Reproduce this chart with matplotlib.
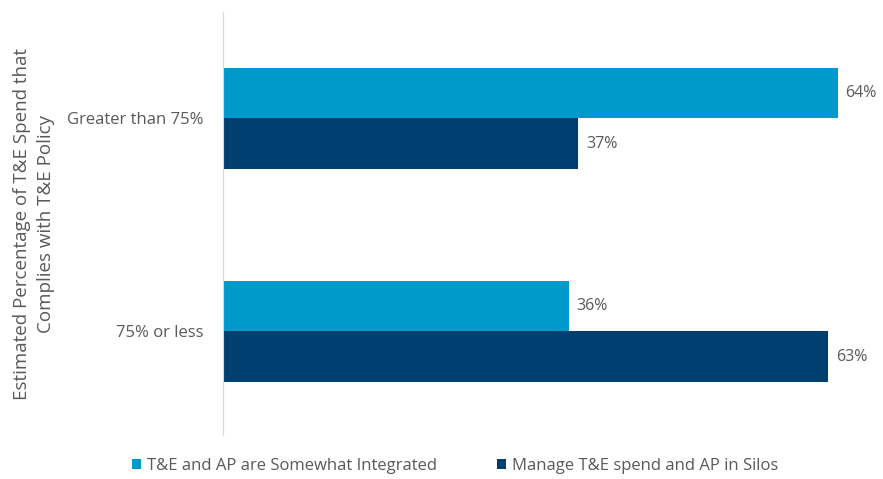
import numpy as np
import matplotlib.pyplot as plt

plt.rcParams["font.family"] = ["Open Sans", "DejaVu Sans"]

categories = ["Greater than 75%", "75% or less"]
integrated = [64, 36]
silos = [37, 63]
series_names = ["T&E and AP are Somewhat Integrated", "Manage T&E spend and AP in Silos"]

LIGHT = "#0099CC"
DARK = "#003F6F"
TEXT = "#595959"

fig = plt.figure(figsize=(8.83, 4.79), dpi=100)
ax = fig.add_axes([223 / 883, 1 - 435 / 479, 657 / 883, 423 / 479])

y = np.arange(len(categories))
h = 0.235
b1 = ax.barh(y - h / 2, integrated, height=h, color=LIGHT, label=series_names[0])
b2 = ax.barh(y + h / 2, silos, height=h, color=DARK, label=series_names[1])

for bars, vals in [(b1, integrated), (b2, silos)]:
    for bar, v in zip(bars, vals):
        ax.text(bar.get_width() + 0.8, bar.get_y() + bar.get_height() / 2,
                f"{v}%", va="center", ha="left", fontsize=11.5, color=TEXT)

ax.set_xlim(0, 68.4)
ax.set_ylim(1.486, -0.5)
ax.set_xticks([])
ax.set_yticks(y)
ax.set_yticklabels(categories, fontsize=12, color=TEXT)
ax.tick_params(axis="y", length=0, pad=14)
for s in ["top", "right", "bottom"]:
    ax.spines[s].set_visible(False)
ax.spines["left"].set_color("#D9D9D9")

fig.text(34 / 883, 1 - 224 / 479, "Estimated Percentage of T&E Spend that\nComplies with T&E Policy",
         rotation=90, ha="center", va="center", fontsize=13.5, color=TEXT, linespacing=1.4)

fig.legend(handles=[b1, b2], loc="center", bbox_to_anchor=(455 / 883, 1 - 466 / 479),
           ncol=2, frameon=False, fontsize=12, labelcolor=TEXT,
           handlelength=0.55, handleheight=0.55, handletextpad=0.35, columnspacing=3.6)

fig.savefig("out.png", dpi=100)
